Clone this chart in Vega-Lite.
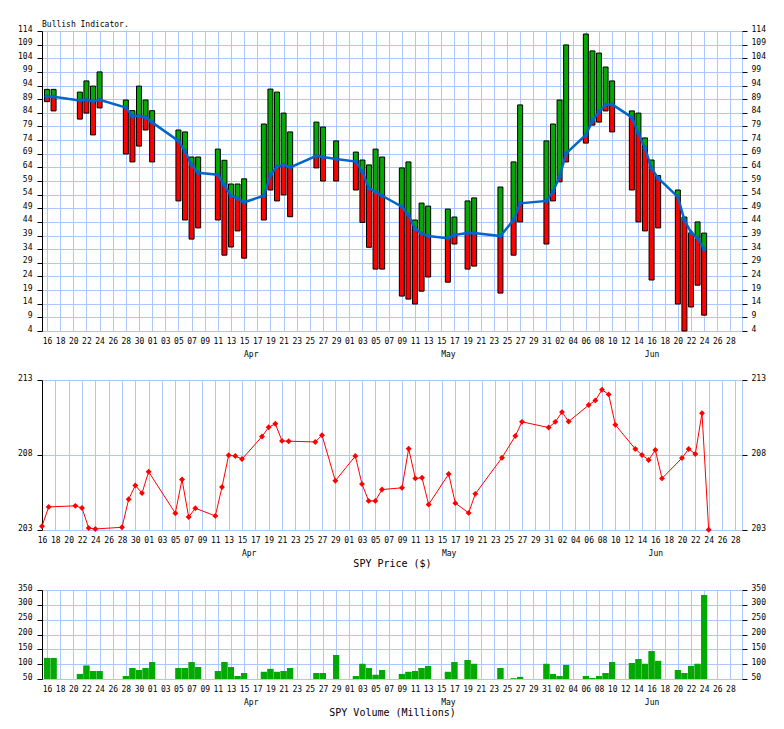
{
"$schema": "https://vega.github.io/schema/vega-lite/v6.json",
"padding": {"left": 5, "top": 20, "right": 5, "bottom": 5},
"background": "white",
"config": {
  "font": "DejaVu Sans Mono",
  "view": {"stroke": "#aac8ff"},
  "axis": {"labelFont": "DejaVu Sans Mono", "labelFontSize": 8, "labelColor": "black", "tickColor": "black", "domainColor": "black", "gridColor": "#aac8ff", "gridOpacity": 1, "titleFont": "DejaVu Sans Mono", "titleFontSize": 10, "titleFontWeight": "normal", "titleColor": "black"},
  "concat": {"spacing": 14}
},
"datasets": {
  "seg": [
    {"d":"2016-03-16","c":"g","top":92.6,"bot":89.9},{"d":"2016-03-16","c":"r","top":89.9,"bot":88.1},
    {"d":"2016-03-17","c":"g","top":92.6,"bot":89.9},{"d":"2016-03-17","c":"r","top":89.9,"bot":84.7},
    {"d":"2016-03-21","c":"g","top":91.6,"bot":88.5},{"d":"2016-03-21","c":"r","top":88.5,"bot":81.7},
    {"d":"2016-03-22","c":"g","top":95.7,"bot":88.8},{"d":"2016-03-22","c":"r","top":88.8,"bot":83.9},
    {"d":"2016-03-23","c":"g","top":93.8,"bot":88.2},{"d":"2016-03-23","c":"r","top":88.2,"bot":75.9},
    {"d":"2016-03-24","c":"g","top":99.0,"bot":88.8},{"d":"2016-03-24","c":"r","top":88.8,"bot":85.8},
    {"d":"2016-03-28","c":"g","top":88.7,"bot":85.9},{"d":"2016-03-28","c":"r","top":85.9,"bot":68.9},
    {"d":"2016-03-29","c":"g","top":84.8,"bot":82.8},{"d":"2016-03-29","c":"r","top":82.8,"bot":66.0},
    {"d":"2016-03-30","c":"g","top":93.8,"bot":82.8},{"d":"2016-03-30","c":"r","top":82.8,"bot":71.8},
    {"d":"2016-03-31","c":"g","top":88.7,"bot":82.3},{"d":"2016-03-31","c":"r","top":82.3,"bot":77.7},
    {"d":"2016-04-01","c":"g","top":84.8,"bot":80.5},{"d":"2016-04-01","c":"r","top":80.5,"bot":66.0},
    {"d":"2016-04-05","c":"g","top":77.7,"bot":73.7},{"d":"2016-04-05","c":"r","top":73.7,"bot":51.7},
    {"d":"2016-04-06","c":"g","top":77.0,"bot":70.0},{"d":"2016-04-06","c":"r","top":70.0,"bot":44.7},
    {"d":"2016-04-07","c":"g","top":67.8,"bot":64.9},{"d":"2016-04-07","c":"r","top":64.9,"bot":37.7},
    {"d":"2016-04-08","c":"g","top":67.8,"bot":62.0},{"d":"2016-04-08","c":"r","top":62.0,"bot":41.8},
    {"d":"2016-04-11","c":"g","top":70.7,"bot":61.3},{"d":"2016-04-11","c":"r","top":61.3,"bot":44.7},
    {"d":"2016-04-12","c":"g","top":66.6,"bot":57.5},{"d":"2016-04-12","c":"r","top":57.5,"bot":31.8},
    {"d":"2016-04-13","c":"g","top":57.9,"bot":53.6},{"d":"2016-04-13","c":"r","top":53.6,"bot":34.8},
    {"d":"2016-04-14","c":"g","top":57.9,"bot":52.6},{"d":"2016-04-14","c":"r","top":52.6,"bot":40.7},
    {"d":"2016-04-15","c":"g","top":59.8,"bot":51.2},{"d":"2016-04-15","c":"r","top":51.2,"bot":30.7},
    {"d":"2016-04-18","c":"g","top":79.9,"bot":53.6},{"d":"2016-04-18","c":"r","top":53.6,"bot":44.7},
    {"d":"2016-04-19","c":"g","top":92.7,"bot":61.2},{"d":"2016-04-19","c":"r","top":61.2,"bot":55.7},
    {"d":"2016-04-20","c":"g","top":91.6,"bot":64.2},{"d":"2016-04-20","c":"r","top":64.2,"bot":51.7},
    {"d":"2016-04-21","c":"g","top":83.9,"bot":64.9},{"d":"2016-04-21","c":"r","top":64.9,"bot":53.9},
    {"d":"2016-04-22","c":"g","top":77.0,"bot":64.0},{"d":"2016-04-22","c":"r","top":64.0,"bot":45.9},
    {"d":"2016-04-26","c":"g","top":80.6,"bot":68.2},{"d":"2016-04-26","c":"r","top":68.2,"bot":63.8},
    {"d":"2016-04-27","c":"g","top":78.8,"bot":67.8},{"d":"2016-04-27","c":"r","top":67.8,"bot":59.0},
    {"d":"2016-04-29","c":"g","top":73.7,"bot":67.1},{"d":"2016-04-29","c":"r","top":67.1,"bot":59.0},
    {"d":"2016-05-02","c":"g","top":69.6,"bot":66.1},{"d":"2016-05-02","c":"r","top":66.1,"bot":55.7},
    {"d":"2016-05-03","c":"g","top":66.7,"bot":62.4},{"d":"2016-05-03","c":"r","top":62.4,"bot":43.8},
    {"d":"2016-05-04","c":"g","top":64.9,"bot":56.3},{"d":"2016-05-04","c":"r","top":56.3,"bot":34.7},
    {"d":"2016-05-05","c":"g","top":70.7,"bot":55.0},{"d":"2016-05-05","c":"r","top":55.0,"bot":26.7},
    {"d":"2016-05-06","c":"g","top":67.8,"bot":53.6},{"d":"2016-05-06","c":"r","top":53.6,"bot":26.7},
    {"d":"2016-05-09","c":"g","top":63.8,"bot":49.6},{"d":"2016-05-09","c":"r","top":49.6,"bot":16.8},
    {"d":"2016-05-10","c":"g","top":66.0,"bot":46.5},{"d":"2016-05-10","c":"r","top":46.5,"bot":15.7},
    {"d":"2016-05-11","c":"g","top":44.7,"bot":41.6},{"d":"2016-05-11","c":"r","top":41.6,"bot":13.9},
    {"d":"2016-05-12","c":"g","top":50.9,"bot":39.8},{"d":"2016-05-12","c":"r","top":39.8,"bot":18.6},
    {"d":"2016-05-13","c":"g","top":49.8,"bot":38.8},{"d":"2016-05-13","c":"r","top":38.8,"bot":23.8},
    {"d":"2016-05-16","c":"g","top":48.7,"bot":38.0},{"d":"2016-05-16","c":"r","top":38.0,"bot":21.9},
    {"d":"2016-05-17","c":"g","top":45.8,"bot":39.2},{"d":"2016-05-17","c":"r","top":39.2,"bot":35.9},
    {"d":"2016-05-19","c":"g","top":51.7,"bot":39.9},{"d":"2016-05-19","c":"r","top":39.9,"bot":26.7},
    {"d":"2016-05-20","c":"g","top":52.8,"bot":39.9},{"d":"2016-05-20","c":"r","top":39.9,"bot":27.8},
    {"d":"2016-05-24","c":"g","top":56.8,"bot":38.8},{"d":"2016-05-24","c":"r","top":38.8,"bot":17.9},
    {"d":"2016-05-26","c":"g","top":66.0,"bot":44.7},{"d":"2016-05-26","c":"r","top":44.7,"bot":31.8},
    {"d":"2016-05-27","c":"g","top":86.9,"bot":50.8},{"d":"2016-05-27","c":"r","top":50.8,"bot":44.0},
    {"d":"2016-05-31","c":"g","top":73.7,"bot":51.7},{"d":"2016-05-31","c":"r","top":51.7,"bot":35.9},
    {"d":"2016-06-01","c":"g","top":79.9,"bot":55.1},{"d":"2016-06-01","c":"r","top":55.1,"bot":51.7},
    {"d":"2016-06-02","c":"g","top":88.7,"bot":60.6},{"d":"2016-06-02","c":"r","top":60.6,"bot":58.7},
    {"d":"2016-06-03","c":"g","top":108.9,"bot":69.1},{"d":"2016-06-03","c":"r","top":69.1,"bot":66.0},
    {"d":"2016-06-06","c":"g","top":112.9,"bot":75.9},{"d":"2016-06-06","c":"r","top":75.9,"bot":72.9},
    {"d":"2016-06-07","c":"g","top":106.7,"bot":81.0},{"d":"2016-06-07","c":"r","top":81.0,"bot":79.5},
    {"d":"2016-06-08","c":"g","top":105.9,"bot":84.4},{"d":"2016-06-08","c":"r","top":84.4,"bot":80.6},
    {"d":"2016-06-09","c":"g","top":100.8,"bot":86.9},{"d":"2016-06-09","c":"r","top":86.9,"bot":84.7},
    {"d":"2016-06-10","c":"g","top":95.7,"bot":87.1},{"d":"2016-06-10","c":"r","top":87.1,"bot":77.0},
    {"d":"2016-06-13","c":"g","top":84.7,"bot":82.3},{"d":"2016-06-13","c":"r","top":82.3,"bot":55.7},
    {"d":"2016-06-14","c":"g","top":83.9,"bot":76.5},{"d":"2016-06-14","c":"r","top":76.5,"bot":44.0},
    {"d":"2016-06-15","c":"g","top":74.8,"bot":71.0},{"d":"2016-06-15","c":"r","top":71.0,"bot":40.7},
    {"d":"2016-06-16","c":"g","top":66.7,"bot":63.6},{"d":"2016-06-16","c":"r","top":63.6,"bot":22.7},
    {"d":"2016-06-17","c":"g","top":61.0,"bot":60.0},{"d":"2016-06-17","c":"r","top":60.0,"bot":41.8},
    {"d":"2016-06-20","c":"g","top":55.7,"bot":53.2},{"d":"2016-06-20","c":"r","top":53.2,"bot":13.9},
    {"d":"2016-06-21","c":"g","top":45.8,"bot":44.7},{"d":"2016-06-21","c":"r","top":44.7,"bot":4.0},
    {"d":"2016-06-22","c":"r","top":39.9,"bot":12.8},
    {"d":"2016-06-23","c":"g","top":44.0,"bot":38.0},{"d":"2016-06-23","c":"r","top":38.0,"bot":20.8},
    {"d":"2016-06-24","c":"g","top":39.9,"bot":34.0},{"d":"2016-06-24","c":"r","top":34.0,"bot":9.8}
  ],
  "ma": [
    {"d":"2016-03-16","ma":89.9},{"d":"2016-03-17","ma":89.9},{"d":"2016-03-21","ma":88.5},{"d":"2016-03-22","ma":88.8},
    {"d":"2016-03-23","ma":88.2},{"d":"2016-03-24","ma":88.8},{"d":"2016-03-28","ma":85.9},{"d":"2016-03-29","ma":82.8},
    {"d":"2016-03-30","ma":82.8},{"d":"2016-03-31","ma":82.3},{"d":"2016-04-01","ma":80.5},{"d":"2016-04-05","ma":73.7},
    {"d":"2016-04-06","ma":70.0},{"d":"2016-04-07","ma":64.9},{"d":"2016-04-08","ma":62.0},{"d":"2016-04-11","ma":61.3},
    {"d":"2016-04-12","ma":57.5},{"d":"2016-04-13","ma":53.6},{"d":"2016-04-14","ma":52.6},{"d":"2016-04-15","ma":51.2},
    {"d":"2016-04-18","ma":53.6},{"d":"2016-04-19","ma":61.2},{"d":"2016-04-20","ma":64.2},{"d":"2016-04-21","ma":64.9},
    {"d":"2016-04-22","ma":64.0},{"d":"2016-04-26","ma":68.2},{"d":"2016-04-27","ma":67.8},{"d":"2016-04-29","ma":67.1},
    {"d":"2016-05-02","ma":66.1},{"d":"2016-05-03","ma":62.4},{"d":"2016-05-04","ma":56.3},{"d":"2016-05-05","ma":55.0},
    {"d":"2016-05-06","ma":53.6},{"d":"2016-05-09","ma":49.6},{"d":"2016-05-10","ma":46.5},{"d":"2016-05-11","ma":41.6},
    {"d":"2016-05-12","ma":39.8},{"d":"2016-05-13","ma":38.8},{"d":"2016-05-16","ma":38.0},{"d":"2016-05-17","ma":39.2},
    {"d":"2016-05-19","ma":39.9},{"d":"2016-05-20","ma":39.9},{"d":"2016-05-24","ma":38.8},{"d":"2016-05-26","ma":44.7},
    {"d":"2016-05-27","ma":50.8},{"d":"2016-05-31","ma":51.7},{"d":"2016-06-01","ma":55.1},{"d":"2016-06-02","ma":60.6},
    {"d":"2016-06-03","ma":69.1},{"d":"2016-06-06","ma":75.9},{"d":"2016-06-07","ma":81.0},{"d":"2016-06-08","ma":84.4},
    {"d":"2016-06-09","ma":86.9},{"d":"2016-06-10","ma":87.1},{"d":"2016-06-13","ma":82.3},{"d":"2016-06-14","ma":76.5},
    {"d":"2016-06-15","ma":71.0},{"d":"2016-06-16","ma":63.6},{"d":"2016-06-17","ma":60.0},{"d":"2016-06-20","ma":53.2},
    {"d":"2016-06-21","ma":44.7},{"d":"2016-06-22","ma":40.2},{"d":"2016-06-23","ma":38.0},{"d":"2016-06-24","ma":34.0}
  ],
  "spy": [
    {"d":"2016-03-16","p":203.25,"v":121},{"d":"2016-03-17","p":204.54,"v":121},{"d":"2016-03-21","p":204.61,"v":67},
    {"d":"2016-03-22","p":204.47,"v":95},{"d":"2016-03-23","p":203.13,"v":77},{"d":"2016-03-24","p":203.07,"v":77},
    {"d":"2016-03-28","p":203.18,"v":60},{"d":"2016-03-29","p":205.05,"v":87},{"d":"2016-03-30","p":205.97,"v":80},
    {"d":"2016-03-31","p":205.46,"v":87},{"d":"2016-04-01","p":206.88,"v":107},{"d":"2016-04-05","p":204.12,"v":87},
    {"d":"2016-04-06","p":206.37,"v":87},{"d":"2016-04-07","p":203.87,"v":107},{"d":"2016-04-08","p":204.45,"v":90},
    {"d":"2016-04-11","p":203.94,"v":77},{"d":"2016-04-12","p":205.86,"v":107},{"d":"2016-04-13","p":207.98,"v":90},
    {"d":"2016-04-14","p":207.93,"v":60},{"d":"2016-04-15","p":207.73,"v":70},{"d":"2016-04-18","p":209.23,"v":74},
    {"d":"2016-04-19","p":209.85,"v":84},{"d":"2016-04-20","p":210.08,"v":74},{"d":"2016-04-21","p":208.94,"v":77},
    {"d":"2016-04-22","p":208.92,"v":87},{"d":"2016-04-26","p":208.87,"v":70},{"d":"2016-04-27","p":209.32,"v":70},
    {"d":"2016-04-29","p":206.28,"v":131},{"d":"2016-05-02","p":207.93,"v":60},{"d":"2016-05-03","p":206.06,"v":101},
    {"d":"2016-05-04","p":204.94,"v":87},{"d":"2016-05-05","p":204.94,"v":64},{"d":"2016-05-06","p":205.70,"v":80},
    {"d":"2016-05-09","p":205.81,"v":67},{"d":"2016-05-10","p":208.42,"v":74},{"d":"2016-05-11","p":206.44,"v":77},
    {"d":"2016-05-12","p":206.48,"v":87},{"d":"2016-05-13","p":204.70,"v":94},{"d":"2016-05-16","p":206.73,"v":74},
    {"d":"2016-05-17","p":204.79,"v":107},{"d":"2016-05-19","p":204.14,"v":114},{"d":"2016-05-20","p":205.41,"v":101},
    {"d":"2016-05-24","p":207.82,"v":87},{"d":"2016-05-26","p":209.27,"v":52},{"d":"2016-05-27","p":210.21,"v":57},
    {"d":"2016-05-31","p":209.83,"v":101},{"d":"2016-06-01","p":210.21,"v":67},{"d":"2016-06-02","p":210.86,"v":60},
    {"d":"2016-06-03","p":210.23,"v":97},{"d":"2016-06-06","p":211.33,"v":60},{"d":"2016-06-07","p":211.64,"v":53},
    {"d":"2016-06-08","p":212.35,"v":60},{"d":"2016-06-09","p":212.04,"v":70},{"d":"2016-06-10","p":210.01,"v":107},
    {"d":"2016-06-13","p":208.40,"v":104},{"d":"2016-06-14","p":208.00,"v":117},{"d":"2016-06-15","p":207.67,"v":101},
    {"d":"2016-06-16","p":208.33,"v":144},{"d":"2016-06-17","p":206.44,"v":111},{"d":"2016-06-20","p":207.80,"v":80},
    {"d":"2016-06-21","p":208.40,"v":70},{"d":"2016-06-22","p":208.07,"v":94},{"d":"2016-06-23","p":210.79,"v":101},
    {"d":"2016-06-24","p":203.02,"v":333}
  ]
},
"vconcat": [
  {
    "width": 700, "height": 300,
    "title": {"text": "Bullish Indicator.", "anchor": "start", "frame": "group", "fontSize": 8, "font": "DejaVu Sans Mono", "fontWeight": "normal", "color": "black", "offset": -4},
    "encoding": {
      "x": {"field": "d", "type": "temporal", "scale": {"type": "utc", "domain": [1458086400000, 1467158400000]},
        "axis": {"title": null, "values": [1458086400000,1458259200000,1458432000000,1458604800000,1458777600000,1458950400000,1459123200000,1459296000000,1459468800000,1459641600000,1459814400000,1459987200000,1460160000000,1460332800000,1460505600000,1460678400000,1460764800000,1460851200000,1461024000000,1461196800000,1461369600000,1461542400000,1461715200000,1461888000000,1462060800000,1462233600000,1462406400000,1462579200000,1462752000000,1462924800000,1463097600000,1463270400000,1463356800000,1463443200000,1463616000000,1463788800000,1463961600000,1464134400000,1464307200000,1464480000000,1464652800000,1464825600000,1464998400000,1465171200000,1465344000000,1465516800000,1465689600000,1465862400000,1466035200000,1466208000000,1466380800000,1466553600000,1466726400000,1466899200000,1467072000000],
          "labelExpr": "utcdate(datum.value)==16 && (utcmonth(datum.value)==3 || utcmonth(datum.value)==4) ? ['', utcFormat(datum.value, '%b')] : (utcdate(datum.value)==16 && utcmonth(datum.value)==5 ? ['16', 'Jun'] : utcFormat(datum.value, '%d'))",
          "labelOverlap": false, "labelBound": false, "labelFlush": false, "labelBaseline": "top", "labelLineHeight": 13, "labelPadding": 6,
          "ticks": false, "domain": false, "grid": true,
          "gridOpacity": {"condition": {"test": "utcdate(datum.value)==16 && (utcmonth(datum.value)==3 || utcmonth(datum.value)==4)", "value": 0}, "value": 1}}}
    },
    "layer": [
      {"data": {"name": "seg"}, "mark": {"type": "bar", "size": 5, "stroke": "black", "strokeWidth": 1},
       "encoding": {
         "y": {"field": "top", "type": "quantitative", "scale": {"domain": [4, 114], "zero": false, "nice": false},
           "axis": {"title": null, "orient": "left", "values": [4,9,14,19,24,29,34,39,44,49,54,59,64,69,74,79,84,89,94,99,104,109,114], "grid": true, "tickSize": 5, "labelPadding": 5, "labelBaseline": "alphabetic", "minExtent": 36, "maxExtent": 36}},
         "y2": {"field": "bot"},
         "color": {"field": "c", "type": "nominal", "scale": {"domain": ["g", "r"], "range": ["#00aa00", "#ff0000"]}, "legend": null}
       }},
      {"data": {"name": "ma"}, "mark": {"type": "line", "color": "#0066cc", "strokeWidth": 2.5, "point": {"shape": "diamond", "size": 30, "filled": true, "color": "#0066cc"}},
       "encoding": {
         "y": {"field": "ma", "type": "quantitative", "scale": {"domain": [4, 114], "zero": false, "nice": false},
           "axis": {"title": null, "orient": "right", "values": [4,9,14,19,24,29,34,39,44,49,54,59,64,69,74,79,84,89,94,99,104,109,114], "grid": false, "domain": false, "tickSize": 5, "labelPadding": 4, "labelBaseline": "alphabetic"}}
       }}
    ],
    "resolve": {"axis": {"y": "independent"}}
  },
  {
    "width": 700, "height": 150,
    "data": {"name": "spy"},
    "encoding": {
      "x": {"field": "d", "type": "temporal", "scale": {"type": "utc", "domain": [1458086400000, 1467158400000]},
        "axis": {"title": "SPY Price ($)", "titlePadding": 1, "values": [1458086400000,1458259200000,1458432000000,1458604800000,1458777600000,1458950400000,1459123200000,1459296000000,1459468800000,1459641600000,1459814400000,1459987200000,1460160000000,1460332800000,1460505600000,1460678400000,1460764800000,1460851200000,1461024000000,1461196800000,1461369600000,1461542400000,1461715200000,1461888000000,1462060800000,1462233600000,1462406400000,1462579200000,1462752000000,1462924800000,1463097600000,1463270400000,1463356800000,1463443200000,1463616000000,1463788800000,1463961600000,1464134400000,1464307200000,1464480000000,1464652800000,1464825600000,1464998400000,1465171200000,1465344000000,1465516800000,1465689600000,1465862400000,1466035200000,1466208000000,1466380800000,1466553600000,1466726400000,1466899200000,1467072000000],
          "labelExpr": "utcdate(datum.value)==16 && (utcmonth(datum.value)==3 || utcmonth(datum.value)==4) ? ['', utcFormat(datum.value, '%b')] : (utcdate(datum.value)==16 && utcmonth(datum.value)==5 ? ['16', 'Jun'] : utcFormat(datum.value, '%d'))",
          "labelOverlap": false, "labelBound": false, "labelFlush": false, "labelBaseline": "top", "labelLineHeight": 13, "labelPadding": 6,
          "ticks": false, "domain": false, "grid": true,
          "gridOpacity": {"condition": {"test": "utcdate(datum.value)==16 && (utcmonth(datum.value)==3 || utcmonth(datum.value)==4)", "value": 0}, "value": 1}}}
    },
    "layer": [
      {"mark": {"type": "line", "color": "#ff0000", "strokeWidth": 1},
       "encoding": {"y": {"field": "p", "type": "quantitative", "scale": {"domain": [203, 213], "zero": false, "nice": false},
         "axis": {"title": null, "orient": "left", "values": [203, 208, 213], "grid": true, "tickSize": 5, "labelPadding": 5, "labelBaseline": "alphabetic", "minExtent": 36, "maxExtent": 36}}}},
      {"mark": {"type": "point", "shape": "diamond", "size": 35, "filled": true, "color": "#ff0000", "opacity": 1},
       "encoding": {"y": {"field": "p", "type": "quantitative", "scale": {"domain": [203, 213], "zero": false, "nice": false},
         "axis": {"title": null, "orient": "right", "values": [203, 208, 213], "grid": false, "domain": false, "tickSize": 5, "labelPadding": 4, "labelBaseline": "alphabetic"}}}}
    ],
    "resolve": {"axis": {"y": "independent"}}
  },
  {
    "width": 700, "height": 89,
    "data": {"name": "spy"},
    "encoding": {
      "x": {"field": "d", "type": "temporal", "scale": {"type": "utc", "domain": [1458086400000, 1467158400000]},
        "axis": {"title": "SPY Volume (Millions)", "titlePadding": 1, "values": [1458086400000,1458259200000,1458432000000,1458604800000,1458777600000,1458950400000,1459123200000,1459296000000,1459468800000,1459641600000,1459814400000,1459987200000,1460160000000,1460332800000,1460505600000,1460678400000,1460764800000,1460851200000,1461024000000,1461196800000,1461369600000,1461542400000,1461715200000,1461888000000,1462060800000,1462233600000,1462406400000,1462579200000,1462752000000,1462924800000,1463097600000,1463270400000,1463356800000,1463443200000,1463616000000,1463788800000,1463961600000,1464134400000,1464307200000,1464480000000,1464652800000,1464825600000,1464998400000,1465171200000,1465344000000,1465516800000,1465689600000,1465862400000,1466035200000,1466208000000,1466380800000,1466553600000,1466726400000,1466899200000,1467072000000],
          "labelExpr": "utcdate(datum.value)==16 && (utcmonth(datum.value)==3 || utcmonth(datum.value)==4) ? ['', utcFormat(datum.value, '%b')] : (utcdate(datum.value)==16 && utcmonth(datum.value)==5 ? ['16', 'Jun'] : utcFormat(datum.value, '%d'))",
          "labelOverlap": false, "labelBound": false, "labelFlush": false, "labelBaseline": "top", "labelLineHeight": 13, "labelPadding": 6,
          "ticks": false, "domain": false, "grid": true,
          "gridOpacity": {"condition": {"test": "utcdate(datum.value)==16 && (utcmonth(datum.value)==3 || utcmonth(datum.value)==4)", "value": 0}, "value": 1}}}
    },
    "layer": [
      {"mark": {"type": "bar", "size": 6, "color": "#00aa00"},
       "encoding": {"y": {"field": "v", "type": "quantitative", "scale": {"domain": [50, 350], "zero": false, "nice": false},
         "axis": {"title": null, "orient": "left", "values": [50,100,150,200,250,300,350], "grid": true, "tickSize": 5, "labelPadding": 5, "labelBaseline": "alphabetic", "minExtent": 36, "maxExtent": 36}},
         "y2": {"datum": 50}}},
      {"mark": {"type": "bar", "size": 6, "color": "#00aa00"},
       "encoding": {"y": {"field": "v", "type": "quantitative", "scale": {"domain": [50, 350], "zero": false, "nice": false},
         "axis": {"title": null, "orient": "right", "values": [50,100,150,200,250,300,350], "grid": false, "domain": false, "tickSize": 5, "labelPadding": 4, "labelBaseline": "alphabetic"}},
         "y2": {"datum": 50}}}
    ],
    "resolve": {"axis": {"y": "independent"}}
  }
]
}
